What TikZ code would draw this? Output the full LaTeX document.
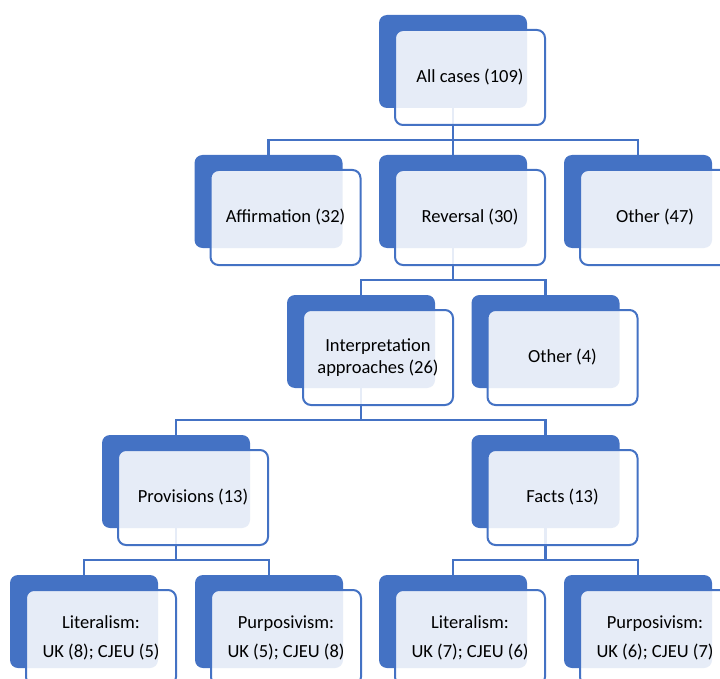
\documentclass[tikz,border=0pt]{standalone}
\usepackage{fontspec}
\setmainfont{Carlito}
\usetikzlibrary{
    positioning,
    backgrounds,
    calc
}
\definecolor{Cblue}{RGB}{68, 114, 196}
\tikzset{
    cback/.style={
        rectangle, rounded corners=8pt, fill=Cblue, draw=none,
        minimum width=148pt, minimum height=93pt, inner sep=0pt
    },
    cfront/.style={
        rectangle, rounded corners=8pt, draw=Cblue, line width=2pt,
        fill=white, fill opacity=0.87, text opacity=1, text=black,
        minimum width=150pt, minimum height=95pt, align=center,
        font=\fontsize{18.5}{22}\selectfont, inner sep=4pt
    },
    clink/.style={draw=Cblue, line width=2.4pt},
}

\begin{document}
\begin{tikzpicture}[x=1pt, y=-1pt]

    \useasboundingbox (0,0) rectangle (720,679);
    \clip (0,0) rectangle (720,679);

    % ── level 0 ──────────────────────────────────────────
    \node [cback] (allb) at (453,61.5) {};
    \node [cfront] (all) at ($(allb)+(17,16)$) {All cases (109)};

    % ── level 1 ──────────────────────────────────────────
    \node [cback] (affb) at (268.5,201.5) {};
    \node [cfront] (aff) at ($(affb)+(17,16)$) {Affirmation (32)};
    \node [cback] (revb) at (453,201.5) {};
    \node [cfront] (rev) at ($(revb)+(17,16)$) {Reversal (30)};
    \node [cback] (othb) at (638,201.5) {};
    \node [cfront] (oth) at ($(othb)+(17,16)$) {Other (47)};

    % ── level 2 ──────────────────────────────────────────
    \node [cback] (intb) at (361,341.5) {};
    \node [cfront] (int) at ($(intb)+(17,16)$) {Interpretation\\approaches (26)};
    \node [cback] (othrb) at (545.5,341.5) {};
    \node [cfront] (othr) at ($(othrb)+(17,16)$) {Other (4)};

    % ── level 3 ──────────────────────────────────────────
    \node [cback] (provb) at (176,481.5) {};
    \node [cfront] (prov) at ($(provb)+(17,16)$) {Provisions (13)};
    \node [cback] (factb) at (545.5,481.5) {};
    \node [cfront] (fact) at ($(factb)+(17,16)$) {Facts (13)};

    % ── level 4 ──────────────────────────────────────────
    \node [cback] (plitb) at (84,621.5) {};
    \node [cfront] (plit) at ($(plitb)+(17,16)$) {Literalism:\\[7pt]UK (8); CJEU (5)};
    \node [cback] (ppurb) at (269,621.5) {};
    \node [cfront] (ppur) at ($(ppurb)+(17,16)$) {Purposivism:\\[7pt]UK (5); CJEU (8)};
    \node [cback] (flitb) at (453,621.5) {};
    \node [cfront] (flit) at ($(flitb)+(17,16)$) {Literalism:\\[7pt]UK (7); CJEU (6)};
    \node [cback] (fpurb) at (638,621.5) {};
    \node [cfront] (fpur) at ($(fpurb)+(17,16)$) {Purposivism:\\[7pt]UK (6); CJEU (7)};

    % ── connectors (behind the boxes) ────────────────────
    \begin{scope}[on background layer]
        \draw [clink] (allb.south) -- ++(0,32) -| (affb.north);
        \draw [clink] (allb.south) -- ++(0,32) -| (revb.north);
        \draw [clink] (allb.south) -- ++(0,32) -| (othb.north);

        \draw [clink] (revb.south) -- ++(0,32) -| (intb.north);
        \draw [clink] (revb.south) -- ++(0,32) -| (othrb.north);

        \draw [clink] (intb.south) -- ++(0,32) -| (provb.north);
        \draw [clink] (intb.south) -- ++(0,32) -| (factb.north);

        \draw [clink] (provb.south) -- ++(0,32) -| (plitb.north);
        \draw [clink] (provb.south) -- ++(0,32) -| (ppurb.north);
        \draw [clink] (factb.south) -- ++(0,32) -| (flitb.north);
        \draw [clink] (factb.south) -- ++(0,32) -| (fpurb.north);
    \end{scope}

\end{tikzpicture}
\end{document}
